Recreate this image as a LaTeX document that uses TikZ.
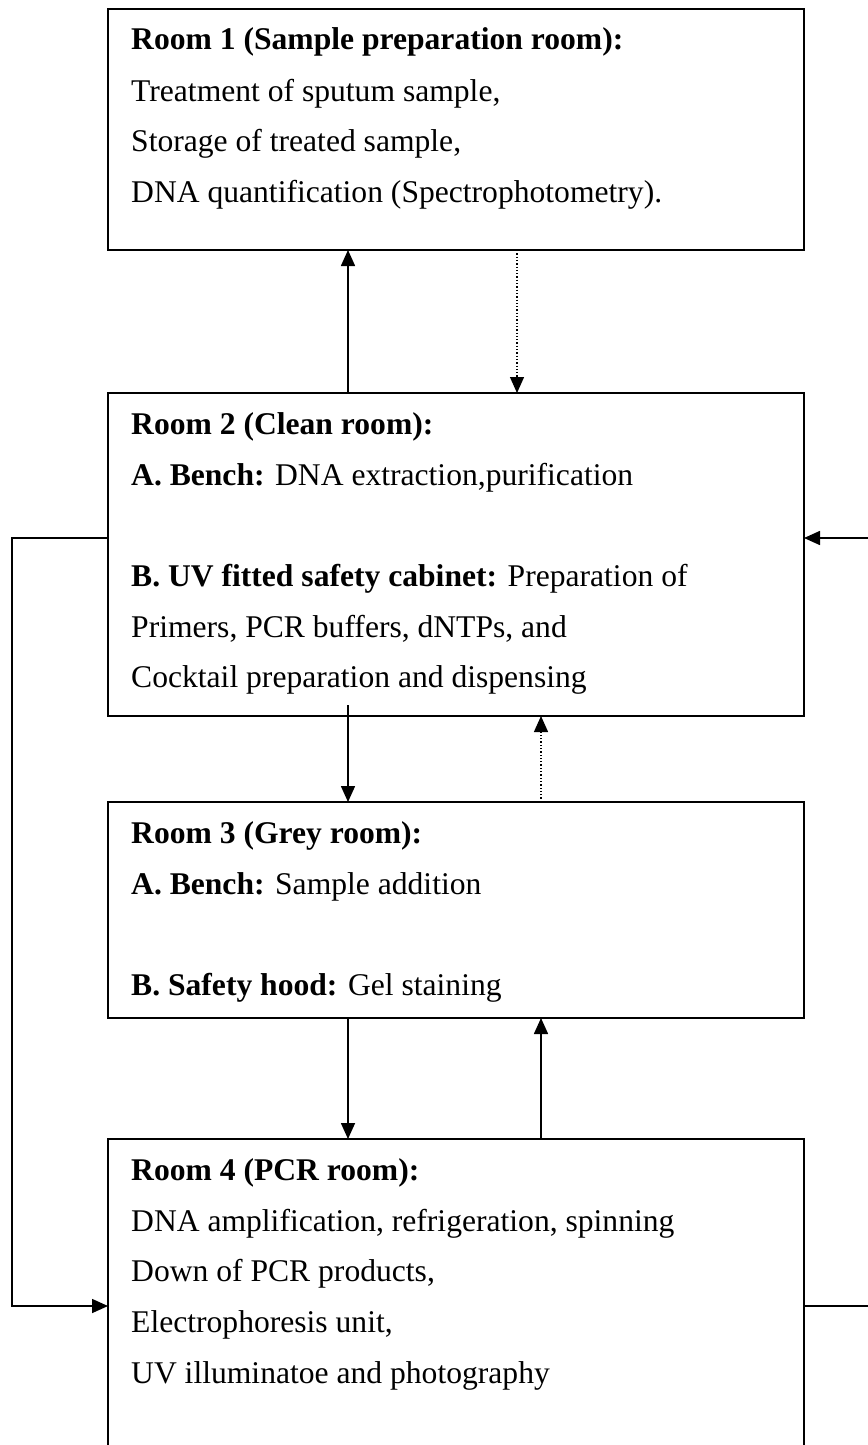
\documentclass[tikz,border=0pt]{standalone}
\usepackage{fontspec}
\setmainfont{Liberation Serif}
\usetikzlibrary{arrows.meta}
\begin{document}
\begin{tikzpicture}[x=1pt,y=-1pt,
  roombox/.style={draw,line width=1.6pt,minimum width=696pt,inner sep=0pt,outer sep=0pt},
  txt/.style={anchor=base west,inner sep=0pt,font=\fontsize{31.6}{38}\selectfont},
  arr/.style={line width=1.6pt,-{Triangle[length=16pt,width=14pt]}},
  darr/.style={line width=1.3pt,dotted,-{Triangle[length=16pt,width=14pt]}}]
\useasboundingbox (0,0) rectangle (867,1445);
% boxes
\node[roombox,minimum height=241pt] (box1) at (456,129.5) {};
\node[roombox,minimum height=323pt] (box2) at (456,554.5) {};
\node[roombox,minimum height=216pt] (box3) at (456,910) {};
\node[minimum width=696pt,minimum height=321pt,inner sep=0pt,outer sep=0pt] (box4) at (456,1299.5) {};
\draw[line width=1.6pt] (box4.south west) -- (box4.north west) -- (box4.north east) -- (box4.south east);
% texts room 1
\node[txt] (t1a) at (131,50) {\textbf{Room 1 (Sample preparation room):}};
\node[txt] (t1b) at (131,101) {Treatment of sputum sample,};
\node[txt] (t1c) at (131,151) {Storage of treated sample,};
\node[txt] (t1d) at (131,202) {DNA quantification (Spectrophotometry).};
% room 2
\node[txt] (t2a) at (131,434) {\textbf{Room 2 (Clean room):}};
\node[txt] (t2b) at (131,485) {\textbf{A. Bench:} DNA extraction,purification};
\node[txt] (t2c) at (131,586) {\textbf{B. UV fitted safety cabinet:} Preparation of};
\node[txt] (t2d) at (131,637) {Primers, PCR buffers, dNTPs, and};
\node[txt] (t2e) at (131,687) {Cocktail preparation and dispensing};
% room 3
\node[txt] (t3a) at (131,843) {\textbf{Room 3 (Grey room):}};
\node[txt] (t3b) at (131,894) {\textbf{A. Bench:} Sample addition};
\node[txt] (t3c) at (131,995) {\textbf{B. Safety hood:} Gel staining};
% room 4
\node[txt] (t4a) at (131,1180) {\textbf{Room 4 (PCR room):}};
\node[txt] (t4b) at (131,1231) {DNA amplification, refrigeration, spinning};
\node[txt] (t4c) at (131,1281) {Down of PCR products,};
\node[txt] (t4d) at (131,1332) {Electrophoresis unit,};
\node[txt] (t4e) at (131,1383) {UV illuminatoe and photography};
% connectors
\draw[arr] ([xshift=-108pt]box2.north) -- ([xshift=-108pt]box1.south);
\draw[darr] ([xshift=61pt]box1.south) -- ([xshift=61pt]box2.north);
\draw[arr] ([xshift=-108pt,yshift=11pt]box2.south) -- ([xshift=-108pt]box3.north);
\draw[darr] ([xshift=85pt]box3.north) -- ([xshift=85pt]box2.south);
\draw[arr] ([xshift=-108pt]box3.south) -- ([xshift=-108pt]box4.north);
\draw[arr] ([xshift=85pt]box4.north) -- ([xshift=85pt]box3.south);
\draw[arr] ([yshift=16.5pt]box2.west) -- ++(-96,0) |- ([yshift=-6.5pt]box4.west);
\coordinate (offright) at (880,1306);
\draw[arr] ([yshift=-6.5pt]box4.east) -- (offright) |- ([yshift=16.5pt]box2.east);
\end{tikzpicture}
\end{document}
